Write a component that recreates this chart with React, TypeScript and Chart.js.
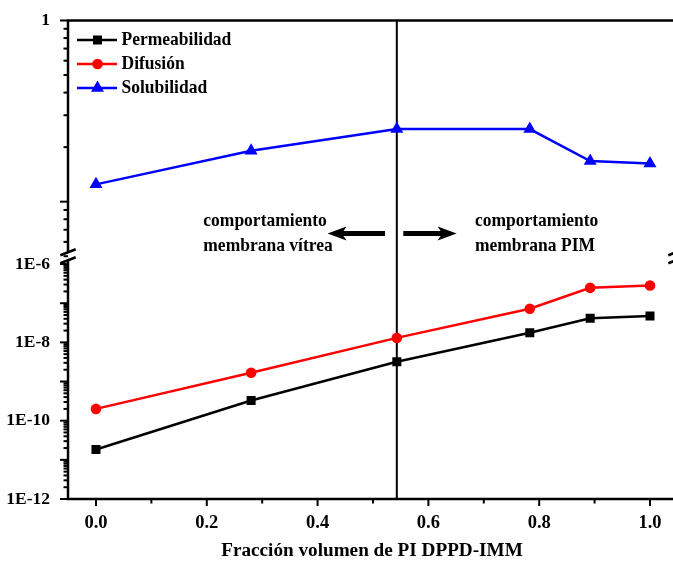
import React, { useEffect, useRef } from 'react';
import { Chart, registerables } from 'chart.js';

Chart.register(...registerables);

// ---- data ----
const seriesNames = ['Permeabilidad', 'Difusión', 'Solubilidad'];
const volumeFraction = [0, 0.28, 0.543, 0.783, 0.892, 1.0];
const permeabilidad = [1.83e-11, 3.27e-10, 3.2e-9, 1.77e-8, 4.12e-8, 4.72e-8];
const difusion = [2.0e-10, 1.68e-9, 1.3e-8, 7.2e-8, 2.47e-7, 2.84e-7];
const solubilidad = [0.1246, 0.1908, 0.252, 0.2515, 0.1675, 0.1625];

const xTickValues = [0, 0.2, 0.4, 0.6, 0.8, 1.0];
const xTickLabels = ['0.0', '0.2', '0.4', '0.6', '0.8', '1.0'];
const xMinorTicks = [0.1, 0.3, 0.5, 0.7, 0.9];
const lowTickValues = [1e-12, 1e-10, 1e-8, 1e-6];
const lowTickLabels = ['1E-12', '1E-10', '1E-8', '1E-6'];
const highTickValues = [1];
const highTickLabels = ['1'];

const dividerX = 0.543;
const xTitle = 'Fracción volumen de PI DPPD-IMM';
const leftNote = ['comportamiento', 'membrana vítrea'];
const rightNote = ['comportamiento', 'membrana PIM'];

const colors = ['#000000', '#ff0000', '#0000ff'];
const FONT = "'Liberation Serif', 'Times New Roman', serif";

function seg(ctx: CanvasRenderingContext2D, x1: number, y1: number, x2: number, y2: number) {
  ctx.beginPath();
  ctx.moveTo(x1, y1);
  ctx.lineTo(x2, y2);
  ctx.stroke();
}

function marker(ctx: CanvasRenderingContext2D, kind: number, x: number, y: number) {
  ctx.beginPath();
  if (kind === 0) {
    const s = 4.5;
    ctx.rect(x - s, y - s, 2 * s, 2 * s);
  } else if (kind === 1) {
    ctx.arc(x, y, 5.3, 0, Math.PI * 2);
  } else {
    const r = 7.5;
    ctx.moveTo(x, y - r);
    ctx.lineTo(x + r * Math.sin((2 * Math.PI) / 3), y + r * 0.5);
    ctx.lineTo(x - r * Math.sin((2 * Math.PI) / 3), y + r * 0.5);
    ctx.closePath();
  }
  ctx.fill();
}

function arrow(ctx: CanvasRenderingContext2D, xTail: number, xTip: number, y: number) {
  const dir = xTip > xTail ? 1 : -1;
  const headLen = 19;
  const headHalf = 7;
  const shaft = 5;
  const xHeadBase = xTip - dir * headLen;
  ctx.beginPath();
  ctx.moveTo(xTail, y - shaft / 2);
  ctx.lineTo(xHeadBase + dir * 3, y - shaft / 2);
  ctx.lineTo(xHeadBase, y - headHalf);
  ctx.lineTo(xTip, y);
  ctx.lineTo(xHeadBase, y + headHalf);
  ctx.lineTo(xHeadBase + dir * 3, y + shaft / 2);
  ctx.lineTo(xTail, y + shaft / 2);
  ctx.closePath();
  ctx.fill();
}

function tallText(ctx: CanvasRenderingContext2D, text: string, x: number, y: number) {
  ctx.save();
  ctx.translate(x, y);
  ctx.scale(1, 1.1);
  ctx.fillText(text, 0, 0);
  ctx.restore();
}

const decorPlugin = {
  id: 'decor',
  beforeDatasetsDraw(chart: any) {
    const { ctx, chartArea, scales } = chart;
    const x = scales.x.getPixelForValue(dividerX);
    ctx.save();
    ctx.strokeStyle = '#000';
    ctx.lineWidth = 2;
    seg(ctx, x, chartArea.top, x, chartArea.bottom);
    ctx.restore();
  },
  afterDatasetsDraw(chart: any) {
    const { ctx, chartArea, scales } = chart;
    const { left, right, top, bottom } = chartArea;
    const xs = scales.x;
    const yT = scales.yTop;
    const yB = scales.y;
    const breakY = yT.bottom;

    ctx.save();
    ctx.strokeStyle = '#000';
    ctx.fillStyle = '#000';
    ctx.lineWidth = 2.5;
    ctx.lineCap = 'butt';

    // frame
    seg(ctx, left - 1.25, top, right + 1.25, top);
    seg(ctx, left - 1.25, bottom, right + 1.25, bottom);
    for (const ax of [left, right]) {
      seg(ctx, ax, top, ax, breakY - 4);
      seg(ctx, ax, breakY + 4, ax, bottom);
      seg(ctx, ax - 7.7, breakY - 4 + 3, ax + 7.7, breakY - 4 - 3);
      seg(ctx, ax - 7.7, breakY + 4 + 3, ax + 7.7, breakY + 4 - 3);
    }

    // y ticks
    ctx.lineWidth = 2;
    const majorLen = 8;
    const minorLen = 4.5;
    for (const v of [0.1, 1]) {
      const p = yT.getPixelForValue(v);
      seg(ctx, left, p, left - majorLen, p);
    }
    for (const v of [0.05, 0.06, 0.07, 0.08, 0.09, 0.2, 0.3, 0.4, 0.5, 0.6, 0.7, 0.8, 0.9]) {
      const p = yT.getPixelForValue(v);
      seg(ctx, left, p, left - minorLen, p);
    }
    for (let e = -12; e <= -6; e++) {
      const p = yB.getPixelForValue(Math.pow(10, e));
      seg(ctx, left, p, left - majorLen, p);
      if (e < -6) {
        for (let k = 2; k <= 9; k++) {
          const q = yB.getPixelForValue(k * Math.pow(10, e));
          seg(ctx, left, q, left - minorLen, q);
        }
      }
    }
    // x ticks
    for (const v of xTickValues) {
      const p = xs.getPixelForValue(v);
      seg(ctx, p, bottom, p, bottom + 7);
    }
    for (const v of xMinorTicks) {
      const p = xs.getPixelForValue(v);
      seg(ctx, p, bottom, p, bottom + 4.5);
    }

    // legend
    ctx.font = `bold 17.5px ${FONT}`;
    ctx.textBaseline = 'middle';
    ctx.textAlign = 'left';
    for (let i = 0; i < seriesNames.length; i++) {
      const y = top + 19.5 + i * 24;
      ctx.strokeStyle = colors[i];
      ctx.fillStyle = colors[i];
      ctx.lineWidth = 2.5;
      seg(ctx, left + 9, y, left + 49, y);
      marker(ctx, i, left + 29.5, y);
      ctx.fillStyle = '#000';
      tallText(ctx, seriesNames[i], left + 53.5, y + 0.5);
    }

    // annotations
    ctx.fillStyle = '#000';
    const ay = yT.getPixelForValue(0.0668);
    arrow(ctx, xs.getPixelForValue(0.5217), xs.getPixelForValue(0.418), ay);
    arrow(ctx, xs.getPixelForValue(0.5547), xs.getPixelForValue(0.651), ay);
    const l1 = yT.getPixelForValue(0.0778);
    const l2 = yT.getPixelForValue(0.0567);
    const lx = xs.getPixelForValue(0.1937);
    const rx = xs.getPixelForValue(0.684);
    tallText(ctx, leftNote[0], lx, l1);
    tallText(ctx, leftNote[1], lx, l2);
    tallText(ctx, rightNote[0], rx, l1);
    tallText(ctx, rightNote[1], rx, l2);

    ctx.restore();
  },
};

const yTickFont = { family: FONT, size: 17.5, weight: 'bold' as const };
const xTickFont = { family: FONT, size: 18.5, weight: 'bold' as const };

export default function App() {
  const ref = useRef<HTMLCanvasElement | null>(null);

  useEffect(() => {
    if (!ref.current) return;
    const mk = (vals: number[]) => volumeFraction.map((x, i) => ({ x, y: vals[i] }));
    const chart = new Chart(ref.current, {
      type: 'line',
      data: {
        datasets: [
          {
            label: seriesNames[2],
            data: mk(solubilidad),
            yAxisID: 'yTop',
            borderColor: colors[2],
            backgroundColor: colors[2],
            borderWidth: 2.5,
            pointStyle: 'triangle',
            pointRadius: 7.5,
            pointBorderWidth: 0,
            tension: 0,
          },
          {
            label: seriesNames[1],
            data: mk(difusion),
            yAxisID: 'y',
            borderColor: colors[1],
            backgroundColor: colors[1],
            borderWidth: 2.5,
            pointStyle: 'circle',
            pointRadius: 5.3,
            pointBorderWidth: 0,
            tension: 0,
          },
          {
            label: seriesNames[0],
            data: mk(permeabilidad),
            yAxisID: 'y',
            borderColor: colors[0],
            backgroundColor: colors[0],
            borderWidth: 2.5,
            pointStyle: 'rect',
            pointRadius: 6.4,
            pointBorderWidth: 0,
            tension: 0,
          },
        ],
      },
      options: {
        responsive: false,
        devicePixelRatio: 1,
        animation: false,
        layout: { padding: { top: 18, left: 0, right: 24, bottom: 0 } },
        plugins: { legend: { display: false }, tooltip: { enabled: false } },
        scales: {
          x: {
            type: 'linear',
            position: 'bottom',
            bounds: 'data',
            min: -0.0505,
            max: (676 - 96) / 554,
            grid: { display: false },
            border: { display: false },
            afterBuildTicks: (s: any) => {
              s.ticks = xTickValues.map((v) => ({ value: v }));
            },
            afterFit: (s: any) => {
              s.height = 64;
            },
            ticks: {
              autoSkip: false,
              maxRotation: 0,
              color: '#000',
              font: xTickFont,
              padding: 5,
              callback: (_v: any, i: number) => xTickLabels[i],
            },
            title: {
              display: true,
              text: xTitle,
              color: '#000',
              font: { family: FONT, size: 19.2, weight: 'bold' },
              padding: { top: 0, bottom: 0 },
            },
          },
          y: {
            type: 'logarithmic',
            position: 'left',
            stack: 'v',
            stackWeight: 243.9,
            weight: 0,
            bounds: 'data',
            min: 1e-12,
            max: Math.pow(10, -5.8),
            grid: { display: false },
            border: { display: false },
            afterBuildTicks: (s: any) => {
              s.ticks = lowTickValues.map((v) => ({ value: v }));
            },
            afterFit: (s: any) => {
              s.width = 68;
            },
            ticks: {
              autoSkip: false,
              color: '#000',
              font: yTickFont,
              padding: 10,
              callback: (_v: any, i: number) => lowTickLabels[i],
            },
          },
          yTop: {
            type: 'logarithmic',
            position: 'left',
            stack: 'v',
            stackWeight: 236.8,
            weight: 1,
            bounds: 'data',
            min: 0.05,
            max: 1,
            grid: { display: false },
            border: { display: false },
            afterBuildTicks: (s: any) => {
              s.ticks = highTickValues.map((v) => ({ value: v }));
            },
            afterFit: (s: any) => {
              s.width = 68;
            },
            ticks: {
              autoSkip: false,
              color: '#000',
              font: yTickFont,
              padding: 10,
              callback: (_v: any, i: number) => highTickLabels[i],
            },
          },
        },
      } as any,
      plugins: [decorPlugin],
    });
    return () => chart.destroy();
  }, []);

  return (
    <div
      style={{
        position: 'fixed',
        left: 0,
        top: 0,
        width: 673,
        height: 563,
        overflow: 'hidden',
        background: '#fff',
      }}
    >
      <canvas ref={ref} width={700} height={563} style={{ display: 'block', width: 700, height: 563 }} />
    </div>
  );
}
